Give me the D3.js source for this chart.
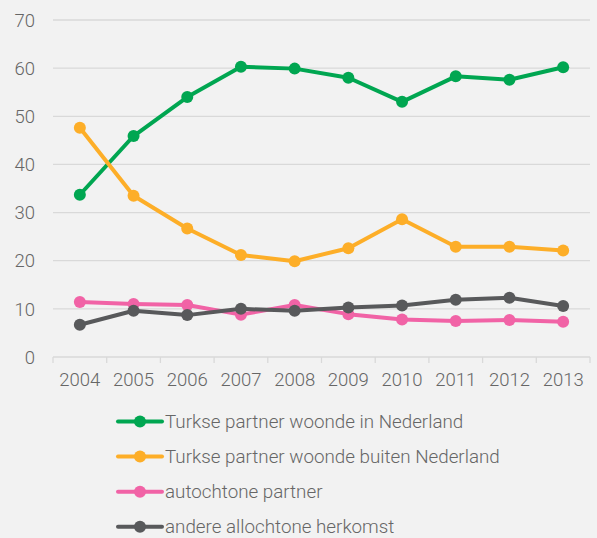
<!DOCTYPE html>
<html><head><meta charset="utf-8">
<script src="https://cdn.jsdelivr.net/npm/d3@7"></script>
<style>
html,body{margin:0;padding:0;background:#f2f2f2;}
svg{display:block;}
text{font-family:Roboto,"Noto Sans",sans-serif;font-weight:300;fill:#666666;}
</style></head>
<body>
<script>
const years = ["2004","2005","2006","2007","2008","2009","2010","2011","2012","2013"];
const seriesNames = ["Turkse partner woonde in Nederland","Turkse partner woonde buiten Nederland","autochtone partner","andere allochtone herkomst"];
const greenVals = [33.7,45.9,54.0,60.3,59.9,58.0,53.0,58.3,57.6,60.2];
const orangeVals = [47.6,33.5,26.7,21.2,19.9,22.6,28.6,22.9,22.9,22.1];
const pinkVals = [11.4,11.0,10.8,8.8,10.8,8.9,7.8,7.5,7.7,7.3];
const grayVals = [6.7,9.6,8.7,10.0,9.6,10.3,10.7,11.9,12.3,10.6];
const yTicks = [0,10,20,30,40,50,60,70];

const colors = ["#00a651","#fdae28","#f163a6","#58595b"];
const allVals = [greenVals, orangeVals, pinkVals, grayVals];

const W=597,H=538;
const svg=d3.select("body").append("svg").attr("width",W).attr("height",H);
const x=d3.scaleBand().domain(years).range([53,590]);
const y=d3.scaleLinear().domain([0,70]).range([357,20]);

svg.append("g").selectAll("line").data(yTicks.filter(d=>d>0)).join("line")
  .attr("x1",53).attr("x2",590).attr("y1",d=>y(d)).attr("y2",d=>y(d))
  .attr("stroke","#d9d9d9").attr("stroke-width",1.3);

svg.append("g").selectAll("text").data(yTicks).join("text")
  .attr("x",35).attr("y",d=>y(d)).attr("dy","0.36em").attr("text-anchor","end")
  .attr("font-size",18.5).text(d=>d);

const xa=svg.append("g").attr("transform","translate(0,357)")
  .call(d3.axisBottom(x).tickSize(0).tickPadding(16));
xa.select(".domain").remove();
xa.selectAll("text").attr("font-size",18.5).style("font-family","Roboto").style("font-weight",300).attr("fill","#666666");
svg.append("line").attr("x1",53).attr("x2",590).attr("y1",357).attr("y2",357).attr("stroke","#d9d9d9").attr("stroke-width",1.3);
const bounds=years.map(d=>x(d)).concat([x.range()[1]]);
svg.append("g").selectAll("line").data(bounds).join("line")
  .attr("x1",d=>d).attr("x2",d=>d).attr("y1",357).attr("y2",363)
  .attr("stroke","#d9d9d9").attr("stroke-width",1.3);

const cx=d=>x(d)+x.bandwidth()/2;
const line=d3.line().x((d,i)=>cx(years[i])).y(d=>y(d));

allVals.forEach((vals,k)=>{
  const g=svg.append("g");
  g.append("path").datum(vals).attr("d",line).attr("fill","none")
    .attr("stroke",colors[k]).attr("stroke-width",4).attr("stroke-linejoin","round");
  g.selectAll("circle").data(vals).join("circle")
    .attr("cx",(d,i)=>cx(years[i])).attr("cy",d=>y(d)).attr("r",6).attr("fill",colors[k]);
});

const lg=svg.append("g");
seriesNames.forEach((name,k)=>{
  const yy=421.5+k*35.1;
  lg.append("line").attr("x1",118).attr("x2",162).attr("y1",yy).attr("y2",yy)
    .attr("stroke",colors[k]).attr("stroke-width",4).attr("stroke-linecap","round");
  lg.append("circle").attr("cx",140).attr("cy",yy).attr("r",6).attr("fill",colors[k]);
  lg.append("text").attr("x",165).attr("y",yy).attr("dy","0.34em").attr("font-size",18.8).text(name);
});
</script>
</body></html>
